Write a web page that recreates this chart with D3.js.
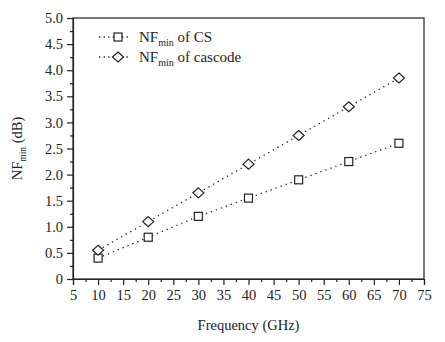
<!DOCTYPE html>
<html><head><meta charset="utf-8">
<script src="https://cdn.jsdelivr.net/npm/d3@7"></script>
<style>body{margin:0;background:#fff}svg{display:block}text{font-family:"Liberation Serif","Times New Roman",serif;fill:#222}</style>
</head><body><svg id="c" width="445" height="342"></svg>
<script>
const freq = [10, 20, 30, 40, 50, 60, 70];
const nfCS = [0.4, 0.8, 1.2, 1.55, 1.9, 2.25, 2.6];
const nfCascode = [0.55, 1.1, 1.65, 2.2, 2.75, 3.3, 3.85];
const xTicks = [5,10,15,20,25,30,35,40,45,50,55,60,65,70,75];
const yTicks = [0,0.5,1.0,1.5,2.0,2.5,3.0,3.5,4.0,4.5,5.0];

const svg = d3.select("#c");
const L=73, R=424, T=18, B=279;
const x = d3.scaleLinear().domain([5,75]).range([L,R]);
const y = d3.scaleLinear().domain([0,5]).range([B,T]);
const col = "#222";

svg.append("rect").attr("x",L).attr("y",T).attr("width",R-L).attr("height",B-T)
  .attr("fill","none").attr("stroke",col).attr("stroke-width",1.2);

const xMinor = d3.range(7.5,75,5);
const yMinor = d3.range(0.25,5,0.5);
svg.append("g").attr("transform",`translate(0,${B})`)
  .call(d3.axisBottom(x).tickValues(xTicks).tickFormat(d3.format("d")).tickSize(6).tickPadding(5));
svg.append("g").attr("transform",`translate(0,${B})`)
  .call(d3.axisBottom(x).tickValues(xMinor).tickFormat("").tickSize(3)).select(".domain").remove();
svg.append("g").attr("transform",`translate(${L},0)`)
  .call(d3.axisLeft(y).tickValues(yTicks).tickFormat(d=>d===0?"0":d3.format(".1f")(d)).tickSize(6).tickPadding(4));
svg.append("g").attr("transform",`translate(${L},0)`)
  .call(d3.axisLeft(y).tickValues(yMinor).tickFormat("").tickSize(3)).select(".domain").remove();
svg.selectAll("g").attr("font-family",null);
svg.selectAll(".domain").attr("stroke",col).attr("stroke-width",1.2);
svg.selectAll(".tick line").attr("stroke",col).attr("stroke-width",1.2);
svg.selectAll(".tick text").style("font-family","'Liberation Serif', serif").style("font-size","14.5px").attr("fill",col);

svg.append("text").attr("x",(L+R)/2).attr("y",330).attr("text-anchor","middle")
  .style("font-size","14.5px").text("Frequency (GHz)");
const yl = svg.append("text").attr("transform",`translate(22,${(T+B)/2}) rotate(-90)`).attr("text-anchor","middle").style("font-size","14.5px");
yl.append("tspan").text("NF");
yl.append("tspan").attr("dy",4).style("font-size","9.5px").text("min");
yl.append("tspan").attr("dy",-4).text(" (dB)");

const line = d3.line().x((d,i)=>x(freq[i])).y(d=>y(d));
function series(vals, shape){
  svg.append("path").attr("d",line(vals)).attr("fill","none").attr("stroke",col)
    .attr("stroke-width",1.3).attr("stroke-dasharray","1.3,4");
  drawMarkers(vals.map((v,i)=>[x(freq[i]),y(v)]), shape);
}
function drawMarkers(pts, shape){
  pts.forEach(([px,py])=>{
    if(shape==="sq"){
      svg.append("rect").attr("x",px-4).attr("y",py-4).attr("width",8).attr("height",8)
        .attr("fill","#fff").attr("stroke",col).attr("stroke-width",1.2);
    } else {
      svg.append("path").attr("d",`M${px},${py-5}L${px+5.5},${py}L${px},${py+5}L${px-5.5},${py}Z`)
        .attr("fill","#fff").attr("stroke",col).attr("stroke-width",1.2);
    }
  });
}
series(nfCS,"sq");
series(nfCascode,"dia");

const leg = [["sq"," of CS",37],["dia"," of cascode",57]];
leg.forEach(([shape,label,ly])=>{
  svg.append("line").attr("x1",99).attr("x2",131).attr("y1",ly).attr("y2",ly)
    .attr("stroke",col).attr("stroke-width",1.3).attr("stroke-dasharray","1.3,3.3");
  drawMarkers([[118,ly]],shape);
  const t = svg.append("text").attr("x",139).attr("y",ly+5).style("font-size","15px");
  t.append("tspan").text("NF");
  t.append("tspan").attr("dy",4).style("font-size","10px").text("min");
  t.append("tspan").attr("dy",-4).text(label);
});
</script></body></html>
